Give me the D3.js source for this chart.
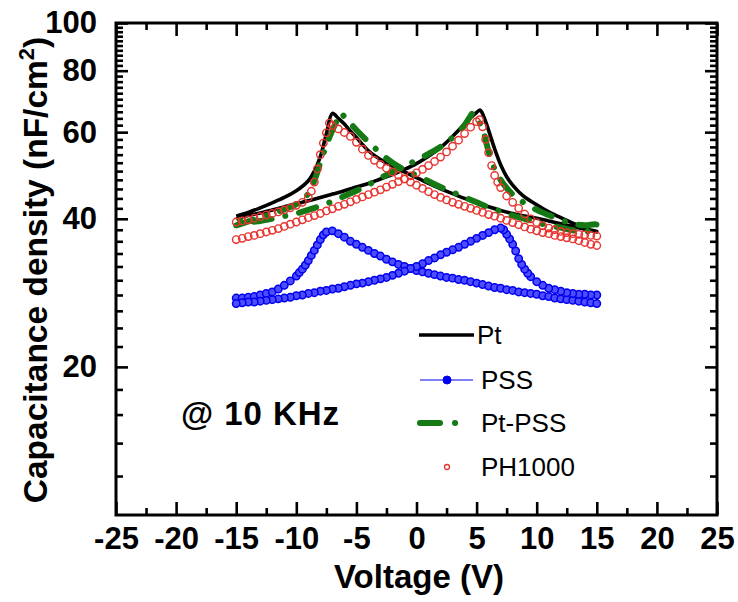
<!DOCTYPE html>
<html><head><meta charset="utf-8">
<script src="https://cdn.jsdelivr.net/npm/d3@7"></script>
<style>
body{margin:0;background:#fff}
svg{display:block}
text{font-family:"Liberation Sans",Arial,Helvetica,sans-serif}
</style>
</head><body>
<svg id="chart" width="738" height="602"></svg>
<script>
// ---------------- DATA ----------------
const seriesNames = ["Pt", "PSS", "Pt-PSS", "PH1000"];
const xTickValues = [-25, -20, -15, -10, -5, 0, 5, 10, 15, 20, 25];
const yTickValues = [20, 40, 60, 80, 100];
const annotation = "@ 10 KHz";
const xTitle = "Voltage (V)";

// Pt : forward sweep (-15 -> 15) and reverse sweep (stored with ascending V)
const ptFwdV = [-15,-14,-13,-12,-11,-10,-9,-8.5,-8,-7.5,-7,-6.5,-6,-5.5,-5,-4,-3,-2,-1,0,1,2,3,4,5,6,7,8,9,10,11,12,13,14,15];
const ptFwdC = [40.5,41.2,42.1,43.1,44.2,45.6,47.8,50.0,53.5,59.5,65.5,64.0,62.3,60.3,58.5,55.0,52.8,51.2,49.8,48.5,47.2,46.0,45.0,44.0,43.1,42.3,41.6,41.0,40.5,40.1,39.6,39.1,38.6,38.1,37.7];
const ptRevV = [-15,-14,-13,-12,-11,-10,-9,-8,-7,-6,-5,-4,-3,-2,-1,0,1,2,3,4,4.5,5,5.3,5.6,6,6.5,7,7.5,8,8.5,9,10,11,12,13,14,15];
const ptRevC = [40.0,40.6,41.1,41.7,42.3,42.9,43.5,44.2,44.9,45.6,46.4,47.2,48.2,49.2,50.4,51.8,53.6,55.8,58.8,62.3,64.2,65.8,66.5,64.5,60.5,55.5,51.5,48.7,46.8,45.4,44.3,42.7,41.3,40.2,39.2,38.3,37.6];

// Pt-PSS
const gFwdV = [-15,-14,-13,-12,-11,-10,-9,-8.5,-8,-7.5,-7,-6.6,-6.3,-6,-5,-4,-3,-2,-1,0,1,2,3,4,5,6,7,8,9,10,11,12,13,14,15];
const gFwdC = [38.8,39.5,40.2,41.0,41.8,42.8,45.0,47.8,52.0,56.5,60.5,63.5,65.5,64.5,60.6,57.3,54.4,52.0,50.3,49.0,47.7,46.4,45.3,44.2,43.2,42.2,41.4,40.6,40.0,39.3,38.8,38.4,37.9,37.7,38.2];
const gRevV = [-15,-14,-13,-12,-11,-10,-9,-8,-7,-6,-5,-4,-3,-2,-1,0,1,2,3,4,4.4,4.7,5,5.3,5.6,6,6.5,7,7.5,8,8.5,9,10,11,12,13,14,15];
const gRevC = [40.0,39.4,39.6,40.0,40.5,41.0,41.7,42.5,43.4,44.5,45.6,46.9,48.4,49.8,51.2,52.6,54.2,56.0,58.5,62.0,64.2,65.6,64.5,62.3,59.7,54.8,50.5,48.0,46.2,44.8,43.9,43.0,41.7,40.7,39.8,39.1,38.8,38.9];

// PSS
const pssFwdV = [-15,-14.5,-14,-13.5,-13,-12.5,-12,-11.5,-11,-10.5,-10,-9.75,-9.5,-9.25,-9,-8.75,-8.5,-8.25,-8,-7.75,-7.5,-7,-6.5,-6,-5.5,-5,-4.5,-4,-3.5,-3,-2.5,-2,-1.5,-1,-0.5,0,0.5,1,1.5,2,2.5,3,3.5,4,4.5,5,5.5,6,6.5,7,7.5,8,8.5,9,9.5,10,10.5,11,11.5,12,12.5,13,13.5,14,14.5,15];
const pssFwdC = [27.6,27.6,27.7,27.8,28.0,28.2,28.4,28.8,29.3,29.9,30.6,31.1,31.6,32.2,32.9,33.7,34.5,35.4,36.3,37.1,37.6,37.8,37.3,36.7,36.0,35.5,35.0,34.5,34.0,33.6,33.1,32.7,32.3,32.0,31.7,31.4,31.2,31.0,30.8,30.6,30.4,30.3,30.1,30.0,29.8,29.6,29.4,29.2,29.0,28.9,28.7,28.6,28.4,28.3,28.2,28.1,27.9,27.8,27.6,27.5,27.4,27.3,27.2,27.1,27.0,26.9];
const pssRevV = [-15,-14.5,-14,-13.5,-13,-12.5,-12,-11.5,-11,-10.5,-10,-9.5,-9,-8.5,-8,-7.5,-7,-6.5,-6,-5.5,-5,-4.5,-4,-3.5,-3,-2.5,-2,-1.5,-1,-0.5,0,0.5,1,1.5,2,2.5,3,3.5,4,4.5,5,5.5,6,6.5,7,7.25,7.5,7.75,8,8.25,8.5,8.75,9,9.25,9.5,10,10.5,11,11.5,12,12.5,13,13.5,14,14.5,15];
const pssRevC = [26.9,27.0,27.1,27.1,27.2,27.3,27.4,27.5,27.6,27.7,27.9,28.0,28.2,28.3,28.5,28.6,28.8,28.9,29.1,29.3,29.5,29.6,29.8,30.0,30.2,30.4,30.7,31.0,31.3,31.7,32.0,32.4,32.9,33.3,33.8,34.2,34.6,35.0,35.5,36.0,36.5,37.0,37.5,38.0,38.3,38.0,37.2,36.4,35.5,34.4,33.2,32.3,31.6,31.0,30.5,29.8,29.3,28.9,28.7,28.5,28.3,28.2,28.1,28.1,28.0,28.0];

// PH1000
const phFwdV = [-15,-14.5,-14,-13.5,-13,-12.5,-12,-11.5,-11,-10.5,-10,-9.5,-9,-8.75,-8.5,-8.25,-8,-7.75,-7.5,-7.25,-7,-6.5,-6,-5.5,-5,-4.5,-4,-3.5,-3,-2.5,-2,-1.5,-1,-0.5,0,0.5,1,1.5,2,2.5,3,3.5,4,4.5,5,5.5,6,6.5,7,7.5,8,8.5,9,9.5,10,10.5,11,11.5,12,12.5,13,13.5,14,14.5,15];
const phFwdC = [39.4,39.6,39.8,40.1,40.4,40.7,41.0,41.3,41.7,42.1,42.6,43.2,44.2,45.5,47.5,50.5,54.0,57.0,59.8,62.6,61.9,60.9,59.9,58.8,57.2,55.4,53.8,52.6,51.6,50.7,49.8,49.0,48.2,47.5,46.8,46.1,45.4,44.8,44.2,43.7,43.2,42.8,42.4,42.0,41.6,41.2,40.8,40.5,40.1,39.7,39.3,38.9,38.5,38.1,37.8,37.5,37.3,37.0,36.8,36.6,36.4,36.1,35.8,35.5,35.3];
const phRevV = [-15,-14.5,-14,-13.5,-13,-12.5,-12,-11.5,-11,-10.5,-10,-9.5,-9,-8.5,-8,-7.5,-7,-6.5,-6,-5.5,-5,-4.5,-4,-3.5,-3,-2.5,-2,-1.5,-1,-0.5,0,0.5,1,1.5,2,2.5,3,3.5,4,4.5,5,5.25,5.5,5.75,6,6.25,6.5,6.75,7,7.5,8,8.5,9,9.5,10,10.5,11,11.5,12,12.5,13,13.5,14,14.5,15];
const phRevC = [36.3,36.5,36.8,37.0,37.3,37.6,37.9,38.2,38.6,39.0,39.4,39.8,40.2,40.6,41.0,41.5,41.9,42.4,42.8,43.3,43.8,44.3,44.8,45.3,45.8,46.4,47.0,47.6,48.2,48.9,49.6,50.4,51.3,52.3,53.4,54.7,56.2,57.8,59.6,61.4,63.0,63.6,61.5,58.0,54.5,51.3,49.0,47.5,46.3,44.5,43.2,42.0,40.9,40.0,39.3,38.7,38.3,38.0,37.7,37.5,37.3,37.2,37.1,37.0,36.9];

// ---------------- CHART ----------------
const svg = d3.select("#chart");
const X0 = 116, X1 = 717, Y0 = 515, Y1 = 23;
const x = d3.scaleLinear().domain([-25, 25]).range([X0, X1]);
const y = d3.scaleLog().domain([10, 100]).range([Y0, Y1]);

const zip = (V, C) => V.map((v, i) => ({v: v, c: C[i]}));
const loop = (fv, fc, rv, rc) => zip(fv, fc).concat(zip(rv, rc).reverse());

const colors = {pt: "#000000", pss: "#0000ee", g: "#157a15", ph: "#e8332e"};

// axes (ticks inward)
const xMinor = d3.range(-22.5, 25, 5);
const yMinor = d3.range(12, 100, 2).filter(d => d % 20 !== 0);
const fmt = d => String(d);

function styleAxis(g) {
  g.select(".domain").remove();
  g.selectAll(".tick line").attr("stroke", "#000").attr("stroke-width", 2.6);
  g.selectAll(".tick text").attr("fill", "#000").attr("font-weight", "bold").attr("font-size", 31);
}

svg.append("g").attr("transform", `translate(0,${Y0})`)
  .call(d3.axisBottom(x).tickValues(xTickValues).tickFormat(fmt).tickSize(-13).tickPadding(12)).call(styleAxis);
svg.append("g").attr("transform", `translate(0,${Y0})`)
  .call(d3.axisBottom(x).tickValues(xMinor).tickFormat("").tickSize(-7)).call(styleAxis);
svg.append("g").attr("transform", `translate(0,${Y1})`)
  .call(d3.axisTop(x).tickValues(xTickValues).tickFormat("").tickSize(-13)).call(styleAxis);
svg.append("g").attr("transform", `translate(0,${Y1})`)
  .call(d3.axisTop(x).tickValues(xMinor).tickFormat("").tickSize(-7)).call(styleAxis);

svg.append("g").attr("transform", `translate(${X0},0)`)
  .call(d3.axisLeft(y).tickValues(yTickValues).tickFormat(fmt).tickSize(-12).tickPadding(19)).call(styleAxis);
svg.append("g").attr("transform", `translate(${X0},0)`)
  .call(d3.axisLeft(y).tickValues(yMinor).tickFormat("").tickSize(-7)).call(styleAxis);
svg.append("g").attr("transform", `translate(${X1},0)`)
  .call(d3.axisRight(y).tickValues(yTickValues).tickFormat("").tickSize(-12)).call(styleAxis);
svg.append("g").attr("transform", `translate(${X1},0)`)
  .call(d3.axisRight(y).tickValues(yMinor).tickFormat("").tickSize(-7)).call(styleAxis);

// frame
svg.append("rect").attr("x", X0).attr("y", Y1).attr("width", X1 - X0).attr("height", Y0 - Y1)
  .attr("fill", "none").attr("stroke", "#000").attr("stroke-width", 3);

// titles
svg.append("text").attr("x", 419).attr("y", 588).attr("text-anchor", "middle")
  .attr("font-weight", "bold").attr("font-size", 33).text(xTitle);
const yt = svg.append("text").attr("transform", "translate(47,270) rotate(-90)")
  .attr("text-anchor", "middle").attr("font-weight", "bold").attr("font-size", 33.5);
yt.append("tspan").text("Capacitance density (nF/cm");
yt.append("tspan").attr("font-size", 22).attr("dy", -13).text("2");
yt.append("tspan").attr("dy", 13).text(")");

// annotation
svg.append("text").attr("x", 181).attr("y", 425).attr("font-weight", "bold")
  .attr("font-size", 33).attr("textLength", 158).attr("lengthAdjust", "spacing").text(annotation);

// series
const smooth = d3.line().x(d => x(d.v)).y(d => y(d.c)).curve(d3.curveCatmullRom.alpha(0.5));
const straight = d3.line().x(d => x(d.v)).y(d => y(d.c));

const ptLoop = loop(ptFwdV, ptFwdC, ptRevV, ptRevC);
const pssLoop = loop(pssFwdV, pssFwdC, pssRevV, pssRevC);
const gLoop = loop(gFwdV, gFwdC, gRevV, gRevC);
const phPts = zip(phFwdV, phFwdC).concat(zip(phRevV, phRevC));

svg.append("path").datum(ptLoop).attr("d", smooth)
  .attr("fill", "none").attr("stroke", colors.pt).attr("stroke-width", 3.6).attr("stroke-linejoin", "round");

svg.append("path").datum(pssLoop).attr("d", straight)
  .attr("fill", "none").attr("stroke", colors.pss).attr("stroke-width", 1.2);
svg.append("g").selectAll("circle").data(pssLoop).join("circle")
  .attr("cx", d => x(d.v)).attr("cy", d => y(d.c)).attr("r", 3.7)
  .attr("fill", "#4d4dff").attr("stroke", colors.pss).attr("stroke-width", 1.5);

svg.append("path").datum(gLoop).attr("d", smooth)
  .attr("fill", "none").attr("stroke", colors.g).attr("stroke-width", 6)
  .attr("stroke-linecap", "round").attr("stroke-dasharray", "18,14,0.1,14");

svg.append("g").selectAll("circle").data(phPts).join("circle")
  .attr("cx", d => x(d.v)).attr("cy", d => y(d.c)).attr("r", 3.7)
  .attr("fill", "none").attr("stroke", colors.ph).attr("stroke-width", 1.4);

// legend
const lg = svg.append("g");
const rows = [335, 380, 423, 467];
lg.append("line").attr("x1", 419).attr("x2", 474).attr("y1", rows[0]).attr("y2", rows[0])
  .attr("stroke", colors.pt).attr("stroke-width", 3.6);
lg.append("line").attr("x1", 420).attr("x2", 473).attr("y1", rows[1]).attr("y2", rows[1])
  .attr("stroke", colors.pss).attr("stroke-width", 1.2);
lg.append("circle").attr("cx", 447).attr("cy", rows[1]).attr("r", 4)
  .attr("fill", colors.pss).attr("stroke", colors.pss).attr("stroke-width", 1);
lg.append("line").attr("x1", 420).attr("x2", 462).attr("y1", rows[2]).attr("y2", rows[2])
  .attr("stroke", colors.g).attr("stroke-width", 6).attr("stroke-linecap", "round")
  .attr("stroke-dasharray", "20,15,0.1,30");
lg.append("circle").attr("cx", 447).attr("cy", rows[3]).attr("r", 2.5)
  .attr("fill", "none").attr("stroke", colors.ph).attr("stroke-width", 1.3);
lg.selectAll("text.lbl").data(seriesNames).join("text").attr("class", "lbl")
  .attr("x", (d, i) => i === 0 ? 477 : 481).attr("y", (d, i) => rows[i] + 9)
  .attr("font-size", 26).attr("fill", "#000").text(d => d);
</script>
</body></html>
